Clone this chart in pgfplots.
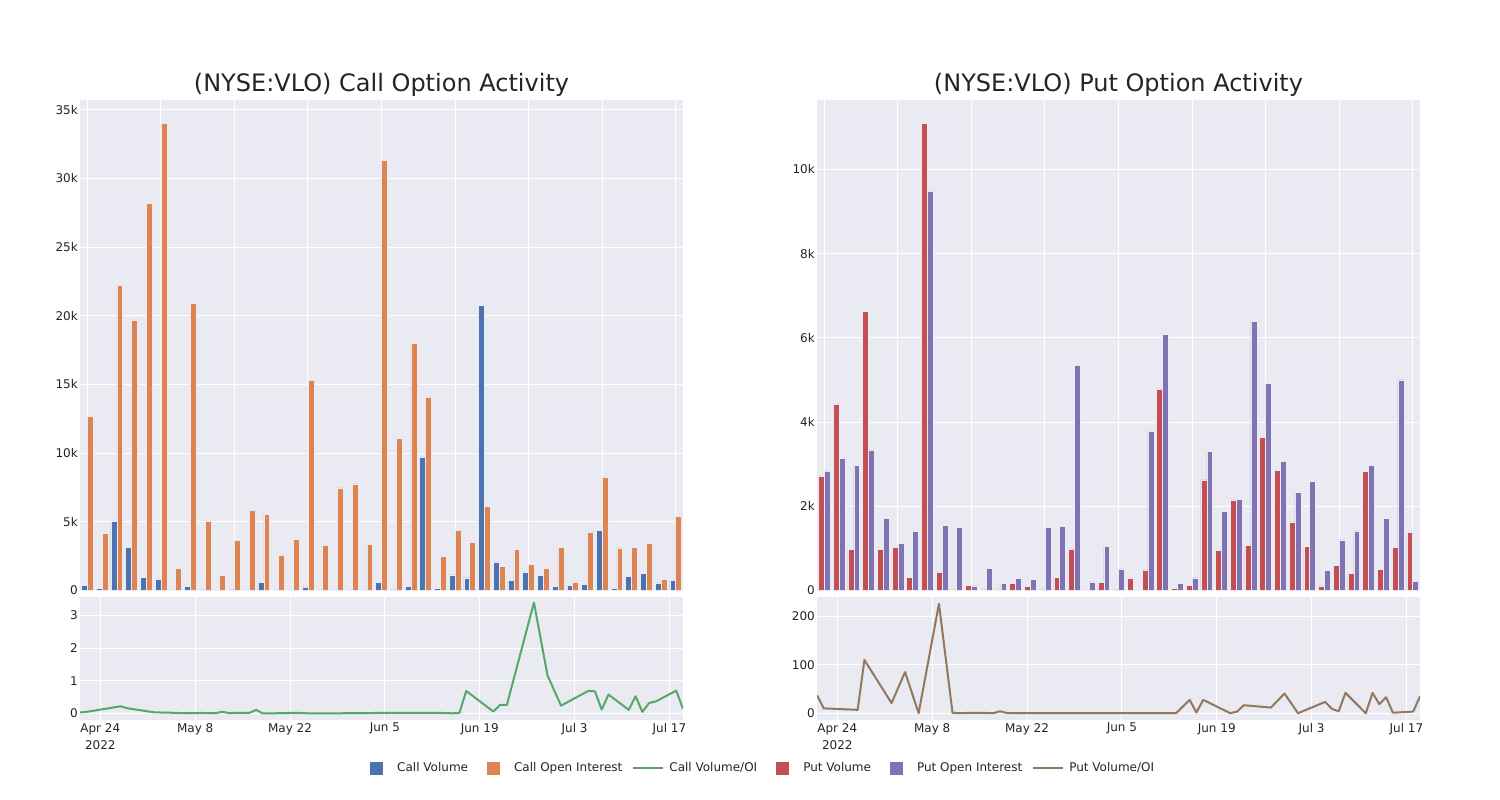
\documentclass[border=0pt]{standalone}
\usepackage{fontspec}
\setmainfont{DejaVu Sans}
\usepackage{pgfplots}
\pgfplotsset{compat=1.18}
\usepackage{pgfplotstable}
\definecolor{sbblue}{RGB}{76,114,176}
\definecolor{sborange}{RGB}{221,132,82}
\definecolor{sbgreen}{RGB}{85,168,104}
\definecolor{sbred}{RGB}{196,78,82}
\definecolor{sbpurple}{RGB}{129,114,179}
\definecolor{sbbrown}{RGB}{147,120,96}
\definecolor{bgc}{RGB}{234,234,242}
\definecolor{txt}{RGB}{36,36,36}

% d = days after Apr 24 2022
\pgfplotstableread{
idx d vol oi ratio
0 -3 370 12700 0.03
1 -2 150 4160 0.05
2 3 5010 22200 0.22
3 4 3140 19700 0.16
4 8 950 28200 0.034
5 10 850 34000 0.025
6 12 20 1600 0.012
7 15 320 20900 0.015
8 17 50 5010 0.01
9 18 55 1120 0.05
10 19 50 3650 0.014
11 22 100 5810 0.017
12 23 580 5520 0.11
13 24 0 2600 0
14 25 10 3720 0.003
15 29 270 15300 0.018
16 31 10 3310 0.003
17 33 30 7470 0.004
18 38 70 7760 0.009
19 43 70 3330 0.021
20 50 610 31300 0.019
21 52 50 11070 0.005
22 53 320 18000 0.018
23 54 9730 14100 0.69
24 58 150 2480 0.06
25 59 1140 4400 0.26
26 60 920 3530 0.26
27 64 20740 6100 3.4
28 66 2090 1780 1.17
29 68 710 2990 0.24
30 72 1310 1900 0.69
31 73 1090 1600 0.68
32 74 320 3160 0.12
33 75 370 630 0.58
34 78 460 4260 0.11
35 79 4380 8220 0.53
36 80 170 3110 0.05
37 81 1020 3160 0.32
38 82 1270 3430 0.37
39 85 560 800 0.7
40 86 750 5400 0.14
}\calldata

\pgfplotstableread{
idx d vol oi ratio
0 -3 2710 2840 37
1 -2 4420 3140 10
2 3 970 2970 7
3 4 6630 3340 110
4 8 970 1720 21
5 10 1025 1120 85
6 12 320 1410 0
7 15 11100 9490 226
8 17 445 1550 1
9 18 40 1500 0
10 19 120 110 0.5
11 22 40 530 0.5
12 23 40 170 0
13 24 170 295 4
14 25 95 270 0.5
15 29 40 1500 0
16 31 320 1520 0
17 33 990 5340 0
18 38 25 205 0
19 43 185 1040 0
20 50 15 515 0
21 52 280 5 27.6
22 53 490 3790 1.4
23 54 4790 6090 27.6
24 58 48 175 0
25 59 127 300 3.4
26 60 2630 3300 16.5
27 64 945 1875 11.7
28 66 2150 2170 40.7
29 68 1065 6395 0
30 72 3640 4925 23.4
31 73 2845 3075 9
32 74 1630 2335 4
33 75 1050 2600 42
34 78 110 470 0
35 79 595 1200 42
36 80 405 1415 18.6
37 81 2835 2965 33
38 82 500 1710 1
39 85 1025 5005 3.4
40 86 1375 215 35
}\putdata

\pgfplotsset{
  common/.style={
    scale only axis, width=603pt,
    axis background/.style={fill=bgc},
    grid=major, major grid style={white, line width=1pt},
    axis line style={draw=none},
    tick style={draw=none},
    scaled y ticks=false,
    tick label style={font=\fontsize{12}{17}\selectfont, text=txt},
    yticklabel style={inner sep=0pt, xshift=-2pt},
    /pgf/number format/assume math mode=true,
  },
  barax/.style={common, height=490.5pt, xmin=-0.5, xmax=40.5, ymin=0,
    xtick={0,5,...,40}, xticklabels={}},
  lineax/.style={common, height=123pt, xmin=-3, xmax=86,
    xtick={0,14,28,42,56,70,84},
    xticklabels={{Apr 24\\2022},May 8,May 22,Jun 5,Jun 19,Jul 3,Jul 17},
    xticklabel style={align=center, inner sep=0pt, yshift=-3pt}},
  barA/.style={ybar, bar width=0.4, bar shift=-0.2, draw=bgc, line width=0.5pt},
  barB/.style={ybar, bar width=0.4, bar shift=0.2, draw=bgc, line width=0.5pt},
}

\newcommand{\sqimg}[1]{\addlegendimage{legend image code/.code={\path[draw=none,fill=none] (0pt,-6pt) rectangle (36pt,6pt); \fill[#1] (9pt,-6pt) rectangle (21pt,6pt);}}}
\newcommand{\gap}{\rule{10pt}{0pt}}

\begin{document}
\begin{tikzpicture}
\useasboundingbox (0,0) rectangle (1500pt,800pt);

\node[anchor=base, inner sep=0pt, font=\fontsize{24}{28}\selectfont, text=txt] at (381.5pt,708pt) {(NYSE:VLO) Call Option Activity};
\node[anchor=base, inner sep=0pt, font=\fontsize{24}{28}\selectfont, text=txt] at (1118.5pt,708pt) {(NYSE:VLO) Put Option Activity};

% Call bars
\begin{axis}[barax, at={(80pt,209.5pt)}, anchor=south west, ymax=35700,
  ytick={0,5000,10000,15000,20000,25000,30000,35000},
  yticklabels={0,5k,10k,15k,20k,25k,30k,35k}]
\addplot[barA, fill=sbblue] table[x=idx, y=vol]{\calldata};
\addplot[barB, fill=sborange] table[x=idx, y=oi]{\calldata};
\end{axis}

% Call ratio
\begin{axis}[lineax, at={(80pt,80pt)}, anchor=south west, ymin=-0.2, ymax=3.57,
  ytick={0,1,2,3}, yticklabels={0,1,2,3}]
\addplot[sbgreen, line width=2pt, line join=round, mark=none] table[x=d, y=ratio]{\calldata};
\end{axis}

% Put bars
\begin{axis}[barax, at={(817pt,209.5pt)}, anchor=south west, ymax=11650,
  ytick={0,2000,4000,6000,8000,10000},
  yticklabels={0,2k,4k,6k,8k,10k}]
\addplot[barA, fill=sbred] table[x=idx, y=vol]{\putdata};
\addplot[barB, fill=sbpurple] table[x=idx, y=oi]{\putdata};
\end{axis}

% Put ratio + legend
\begin{axis}[lineax, at={(817pt,80pt)}, anchor=south west, ymin=-14, ymax=240,
  ytick={0,100,200}, yticklabels={0,100,200},
  legend columns=6,
  legend style={at={(-0.7562,-0.3902)}, anchor=west, draw=none, fill=none,
    inner sep=0pt, font=\fontsize{12}{14}\selectfont, text=txt,
    nodes={inner sep=0pt}},
  legend cell align=left]
\sqimg{sbblue}
\sqimg{sborange}
\addlegendimage{legend image code/.code={\path[draw=none,fill=none] (0pt,-6pt) rectangle (36pt,6pt); \draw[sbgreen, line width=2pt] (0pt,0pt) -- (30pt,0pt);}}
\sqimg{sbred}
\sqimg{sbpurple}
\addplot[sbbrown, line width=2pt, line join=round, mark=none,
  legend image code/.code={\path[draw=none,fill=none] (0pt,-6pt) rectangle (36pt,6pt); \draw[sbbrown, line width=2pt] (0pt,0pt) -- (30pt,0pt);}]
  table[x=d, y=ratio]{\putdata};
\legend{Call Volume\gap, Call Open Interest\gap, Call Volume/OI\gap, Put Volume\gap, Put Open Interest\gap, Put Volume/OI}
\end{axis}
\end{tikzpicture}
\end{document}
